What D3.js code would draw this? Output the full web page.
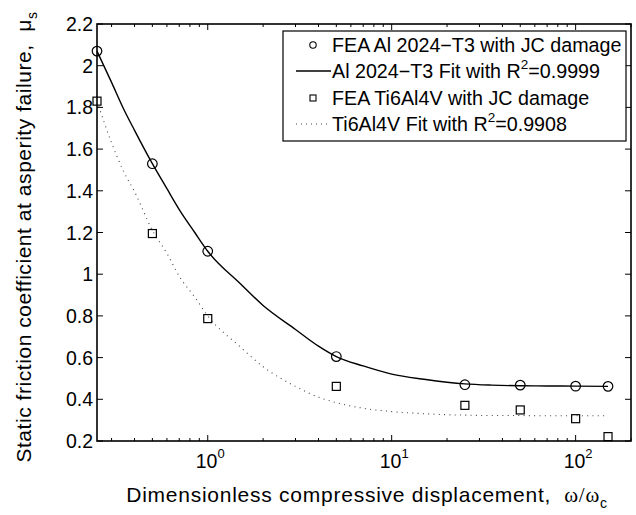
<!DOCTYPE html>
<html><head><meta charset="utf-8">
<script src="https://cdn.jsdelivr.net/npm/d3@7"></script>
<style>
body{margin:0;background:#fff;}
text{font-family:"Liberation Sans",Arial,sans-serif;fill:#000;}
</style></head>
<body><svg id="c" width="636" height="515"></svg>
<script>
// FEA data
const feaX = [0.25, 0.5, 1, 5, 25, 50, 100, 150];
const alFEA = [2.07, 1.53, 1.11, 0.605, 0.47, 0.468, 0.463, 0.462];
const tiFEA = [1.83, 1.195, 0.787, 0.462, 0.371, 0.349, 0.307, 0.221];
// Fit curves
const fitX = [0.25,0.3,0.35,0.4,0.5,0.6,0.7,0.85,1,1.5,2,3,4,5,7,10,15,20,25,35,50,70,100,150];
const alFit = [2.07,1.92,1.79,1.69,1.53,1.41,1.31,1.20,1.11,0.955,0.85,0.735,0.655,0.605,0.56,0.521,0.496,0.482,0.474,0.468,0.465,0.464,0.463,0.462];
const tiFit = [1.83,1.63,1.49,1.396,1.21,1.10,0.99,0.89,0.80,0.652,0.556,0.462,0.41,0.384,0.357,0.341,0.331,0.326,0.324,0.322,0.322,0.321,0.321,0.321];
const yTicks = [0.2,0.4,0.6,0.8,1,1.2,1.4,1.6,1.8,2,2.2];
const xMajor = [1, 10, 100];
const xMajorExp = ["0","1","2"];
const legendLabels = [
  ["FEA Al 2024\u2212T3 with JC damage"],
  ["Al 2024\u2212T3 Fit with R","2","=0.9999"],
  ["FEA Ti6Al4V with JC damage"],
  ["Ti6Al4V Fit with R","2","=0.9908"]
];

const svg = d3.select("#c");
const L=97, R=631, T=24, B=441;
const x = d3.scaleLog().domain([0.25,200]).range([L,R]);
const y = d3.scaleLinear().domain([0.2,2.2]).range([B,T]);
const FS = "19.5px";

const minor = [];
[0.1,1,10,100].forEach(d=>{for(let k=2;k<=9;k++){const v=d*k; if(v>=0.25&&v<=200) minor.push(v);}});

const g = svg.append("g");
g.append("rect").attr("x",L).attr("y",T).attr("width",R-L).attr("height",B-T)
  .attr("fill","none").attr("stroke","#000").attr("stroke-width",1.6);

minor.forEach(v=>{
  const px=x(v);
  g.append("line").attr("x1",px).attr("x2",px).attr("y1",B).attr("y2",B-3).attr("stroke","#000").attr("stroke-width",1);
  g.append("line").attr("x1",px).attr("x2",px).attr("y1",T).attr("y2",T+3).attr("stroke","#000").attr("stroke-width",1);
});
xMajor.forEach((v,i)=>{
  const px=x(v);
  g.append("line").attr("x1",px).attr("x2",px).attr("y1",B).attr("y2",B-6).attr("stroke","#000").attr("stroke-width",1);
  g.append("line").attr("x1",px).attr("x2",px).attr("y1",T).attr("y2",T+6).attr("stroke","#000").attr("stroke-width",1);
  const t=g.append("text").attr("x",px-12).attr("y",B+27).attr("font-size",FS);
  t.append("tspan").text("10");
  t.append("tspan").attr("dy",-10).attr("font-size","13px").text(xMajorExp[i]);
});
yTicks.forEach(v=>{
  const py=y(v);
  g.append("line").attr("x1",L).attr("x2",L+6).attr("y1",py).attr("y2",py).attr("stroke","#000").attr("stroke-width",1);
  g.append("line").attr("x1",R).attr("x2",R-6).attr("y1",py).attr("y2",py).attr("stroke","#000").attr("stroke-width",1);
  g.append("text").attr("x",L-4).attr("y",py+7).attr("text-anchor","end").attr("font-size",FS).text(d3.format("~g")(v));
});

const line = d3.line().x((d,i)=>x(fitX[i])).y(d=>y(d)).curve(d3.curveMonotoneX);
g.append("path").attr("d",line(alFit)).attr("fill","none").attr("stroke","#000").attr("stroke-width",1.4);
g.append("path").attr("d",line(tiFit)).attr("fill","none").attr("stroke","#444").attr("stroke-width",1.1).attr("stroke-dasharray","1,4.3");

feaX.forEach((v,i)=>{
  g.append("circle").attr("cx",x(v)).attr("cy",y(alFEA[i])).attr("r",4.8)
   .attr("fill","none").attr("stroke","#000").attr("stroke-width",1.2);
  g.append("rect").attr("x",x(v)-4).attr("y",y(tiFEA[i])-4).attr("width",8).attr("height",8)
   .attr("fill","none").attr("stroke","#000").attr("stroke-width",1.2);
});

// legend
const lx=283, ly=31, lw=343, lh=110;
const lg = svg.append("g");
lg.append("rect").attr("x",lx).attr("y",ly).attr("width",lw).attr("height",lh)
  .attr("fill","#fff").attr("stroke","#000").attr("stroke-width",1.2);
const rowY = [45, 71, 98, 124];
legendLabels.forEach((lab,i)=>{
  const cy=rowY[i];
  if(i===0) lg.append("circle").attr("cx",313).attr("cy",cy).attr("r",3.2).attr("fill","none").attr("stroke","#000").attr("stroke-width",1.1);
  if(i===1) lg.append("line").attr("x1",296).attr("x2",331).attr("y1",cy).attr("y2",cy).attr("stroke","#000").attr("stroke-width",1.3);
  if(i===2) lg.append("rect").attr("x",310).attr("y",cy-3).attr("width",6).attr("height",6).attr("fill","none").attr("stroke","#000").attr("stroke-width",1.1);
  if(i===3) lg.append("line").attr("x1",296).attr("x2",331).attr("y1",cy).attr("y2",cy).attr("stroke","#444").attr("stroke-width",1.1).attr("stroke-dasharray","1,4");
  const t=lg.append("text").attr("x",332).attr("y",cy+7).attr("font-size","19.7px");
  t.append("tspan").text(lab[0]);
  if(lab.length>1){
    t.append("tspan").attr("dy",-9).attr("font-size","13.5px").text(lab[1]);
    t.append("tspan").attr("dy",9).text(lab[2]);
  }
});

// axis titles
const xt = svg.append("text").attr("x",367).attr("y",502).attr("text-anchor","middle").attr("font-size","21px").attr("letter-spacing","0.75px");
xt.append("tspan").text("Dimensionless compressive displacement,\u00a0\u00a0");
xt.append("tspan").attr("font-family","Liberation Serif, serif").text("\u03c9/\u03c9");
xt.append("tspan").attr("dy",6).attr("font-size","14px").text("c");

const yt = svg.append("text").attr("transform","translate(31,237) rotate(-90)").attr("text-anchor","middle").attr("font-size","21px").attr("letter-spacing","0.55px");
yt.append("tspan").text("Static friction coefficient at asperity failure,\u00a0\u00a0\u03bc");
yt.append("tspan").attr("dy",6).attr("font-size","14px").text("s");
</script></body></html>
